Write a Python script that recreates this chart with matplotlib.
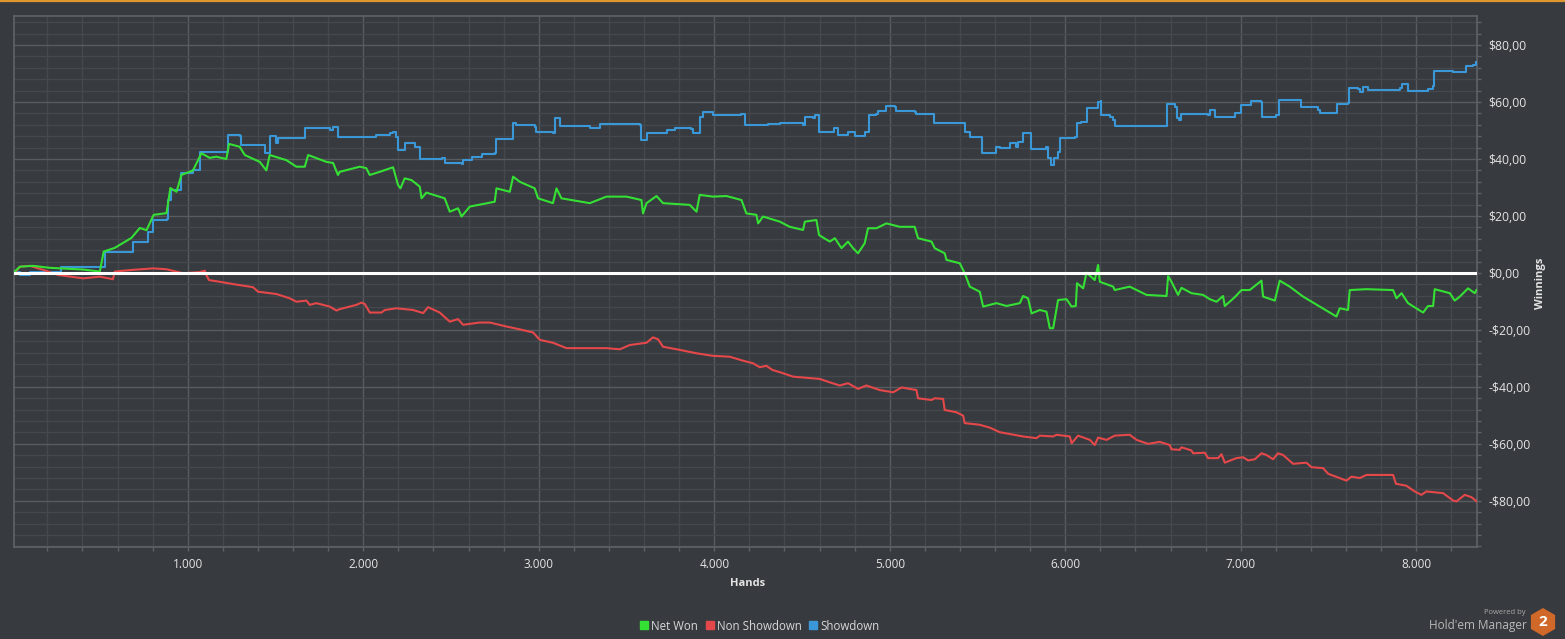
import matplotlib
matplotlib.use("Agg")
import matplotlib.pyplot as plt
from matplotlib.ticker import MultipleLocator, FuncFormatter
from matplotlib.lines import Line2D
from matplotlib.patches import RegularPolygon

# (hands, winnings $)
net_won = [
    (14, 0.5), (43, 2.2), (119, 2.5), (214, 1.8), (309, 1.5), (404, 1.2), (499, 0.5),
    (521, 7.5), (584, 8.8), (679, 12.3), (727, 15.8), (765, 15.0), (806, 20.4), (879, 21.0),
    (901, 29.8), (936, 28.5), (964, 34.4), (1030, 36.0), (1078, 42.0), (1125, 40.4),
    (1163, 40.8), (1220, 40.0), (1235, 45.3), (1296, 44.3), (1325, 41.4), (1410, 39.0),
    (1448, 36.0), (1467, 41.4), (1562, 39.6), (1619, 37.3), (1667, 37.3), (1686, 41.4),
    (1790, 39.0), (1828, 38.6), (1856, 34.4), (1866, 35.5), (1980, 37.3), (2017, 36.8),
    (2037, 34.4), (2094, 35.5), (2170, 37.1), (2198, 30.9), (2212, 29.7), (2236, 33.2),
    (2275, 32.6), (2322, 30.3), (2332, 26.2), (2360, 28.2), (2464, 26.2), (2493, 21.5),
    (2540, 22.7), (2560, 19.8), (2607, 23.3), (2749, 25.0), (2759, 29.7), (2835, 28.5),
    (2854, 33.8), (2892, 32.0), (2977, 29.7), (2996, 26.2), (3081, 24.5), (3101, 29.7),
    (3129, 26.2), (3291, 24.5), (3386, 26.8), (3500, 26.8), (3585, 25.6), (3594, 20.9),
    (3614, 24.5), (3671, 27.0), (3708, 24.5), (3860, 23.9), (3899, 21.5), (3917, 27.4),
    (3993, 26.8), (4070, 27.0), (4155, 25.6), (4183, 20.9), (4240, 20.4), (4250, 17.4),
    (4278, 19.8), (4374, 18.0), (4430, 16.2), (4506, 15.1), (4516, 18.0), (4582, 18.6),
    (4597, 13.3), (4658, 11.0), (4687, 12.2), (4725, 8.7), (4762, 11.0), (4791, 8.7),
    (4819, 6.9), (4857, 10.4), (4876, 15.7), (4924, 15.7), (4981, 17.4), (5057, 16.2),
    (5142, 16.2), (5161, 12.2), (5238, 11.0), (5256, 8.7), (5313, 6.9), (5323, 4.6),
    (5399, 3.4), (5427, -0.1), (5456, -4.8), (5513, -6.6), (5532, -11.8), (5608, -10.6),
    (5665, -11.6), (5741, -10.6), (5760, -8.1), (5788, -8.9), (5808, -14.2), (5855, -13.0),
    (5893, -13.6), (5912, -19.4), (5931, -19.4), (5959, -9.5), (6007, -9.2), (6036, -11.8),
    (6060, -11.6), (6067, -3.6), (6102, -5.4), (6121, 0.1), (6168, -2.5), (6187, 2.8),
    (6197, -3.1), (6273, -4.8), (6282, -6.0), (6367, -4.8), (6463, -7.7), (6577, -8.1),
    (6586, -1.1), (6605, -3.1), (6643, -7.7), (6662, -5.2), (6719, -7.1), (6785, -7.7),
    (6823, -9.2), (6862, -10.1), (6899, -8.1), (6909, -11.6), (6966, -8.5), (7004, -6.0),
    (7051, -6.0), (7118, -2.7), (7127, -8.3), (7194, -9.7), (7222, -2.7), (7279, -4.8),
    (7355, -8.3), (7450, -11.8), (7545, -15.3), (7564, -12.4), (7611, -13.0), (7621, -6.0),
    (7716, -5.7), (7868, -6.0), (7887, -8.9), (7916, -7.1), (7953, -10.6), (8039, -13.9),
    (8067, -11.6), (8096, -11.6), (8105, -5.7), (8191, -7.1), (8219, -9.7), (8248, -8.3),
    (8295, -5.4), (8333, -7.1), (8343, -6.0),
]

non_showdown = [
    (14, -0.1), (43, 2.2), (100, 2.5), (175, 1.1), (261, -0.7), (404, -1.9), (499, -1.3),
    (574, -2.2), (584, 0.5), (688, 1.1), (802, 1.6), (879, 1.3), (973, -0.1), (1068, 0.3),
    (1097, 0.8), (1106, -0.7), (1121, -2.5), (1182, -3.1), (1258, -3.9), (1372, -5.0),
    (1401, -6.6), (1429, -6.8), (1505, -7.4), (1581, -8.9), (1619, -10.1), (1676, -9.7),
    (1695, -11.2), (1733, -10.6), (1771, -11.2), (1809, -11.8), (1847, -13.2), (1866, -12.7),
    (1961, -11.2), (1990, -10.4), (2009, -10.9), (2037, -13.9), (2104, -13.9), (2123, -13.0),
    (2189, -12.4), (2284, -13.0), (2341, -14.1), (2369, -12.0), (2436, -13.9), (2493, -17.1),
    (2540, -16.2), (2569, -18.2), (2664, -17.4), (2721, -17.4), (2816, -18.8), (2892, -19.8),
    (2968, -20.9), (3006, -23.5), (3081, -24.5), (3158, -26.4), (3272, -26.4), (3386, -26.4),
    (3462, -26.8), (3519, -25.3), (3614, -24.5), (3651, -22.6), (3680, -23.3), (3708, -25.9),
    (3803, -27.0), (3899, -28.2), (3993, -29.1), (4088, -29.4), (4164, -30.8), (4221, -31.7),
    (4259, -33.1), (4297, -32.6), (4330, -34.0), (4392, -35.2), (4449, -36.4), (4601, -37.2),
    (4658, -38.4), (4715, -39.5), (4762, -38.7), (4819, -40.7), (4867, -39.5), (4943, -41.1),
    (5019, -41.9), (5067, -40.2), (5152, -41.1), (5161, -44.0), (5238, -44.6), (5256, -44.0),
    (5304, -44.2), (5313, -48.1), (5380, -48.9), (5418, -50.1), (5427, -52.7), (5513, -53.3),
    (5570, -54.3), (5627, -55.9), (5760, -57.4), (5836, -58.0), (5855, -57.1), (5931, -57.4),
    (5950, -56.8), (6026, -57.4), (6036, -59.8), (6073, -57.1), (6140, -58.6), (6168, -60.4),
    (6187, -57.8), (6235, -58.6), (6282, -57.1), (6367, -56.8), (6406, -58.6), (6472, -60.0),
    (6538, -59.3), (6595, -60.4), (6605, -61.9), (6652, -62.1), (6662, -61.2), (6719, -62.3),
    (6728, -63.3), (6795, -63.1), (6814, -65.0), (6871, -65.0), (6890, -63.6), (6909, -66.6),
    (6975, -65.0), (7013, -64.7), (7042, -65.8), (7080, -65.4), (7118, -63.3), (7146, -63.9),
    (7184, -65.4), (7212, -63.3), (7241, -63.9), (7298, -67.0), (7374, -66.6), (7403, -68.2),
    (7469, -68.5), (7498, -70.5), (7602, -72.9), (7631, -71.5), (7678, -72.0), (7716, -70.9),
    (7868, -70.9), (7884, -74.0), (7944, -74.7), (7991, -76.7), (8029, -77.9), (8058, -76.7),
    (8153, -77.3), (8210, -79.9), (8229, -80.2), (8276, -77.9), (8314, -78.7), (8345, -80.2),
]

showdown = [
    (14, 0.3), (43, -0.7), (60, -0.7), (100, 0.5), (280, 2.2), (517, 2.2), (527, 7.5),
    (679, 7.5), (688, 11.0), (774, 14.5), (802, 18.6), (879, 18.8), (888, 25.6), (907, 29.1),
    (964, 35.0), (1030, 36.1), (1068, 42.6), (1163, 42.6), (1230, 48.4), (1296, 48.1),
    (1306, 44.9), (1429, 44.9), (1439, 42.0), (1467, 42.0), (1471, 48.1), (1505, 45.5),
    (1515, 47.3), (1610, 47.3), (1667, 50.8), (1809, 50.2), (1828, 51.3), (1847, 51.3),
    (1856, 47.8), (2075, 48.4), (2151, 49.2), (2170, 49.6), (2189, 47.8), (2198, 43.2),
    (2227, 43.2), (2236, 45.5), (2275, 45.5), (2293, 44.3), (2322, 39.9), (2446, 40.2),
    (2464, 38.5), (2560, 38.2), (2569, 39.6), (2607, 39.6), (2617, 40.8), (2674, 41.8),
    (2749, 42.0), (2759, 46.9), (2844, 46.9), (2854, 52.7), (2873, 51.9), (2977, 51.3),
    (2987, 49.6), (3081, 49.2), (3091, 54.3), (3110, 54.3), (3120, 51.6), (3272, 51.6),
    (3291, 50.8), (3347, 52.2), (3575, 51.9), (3585, 46.7), (3604, 46.7), (3614, 49.0),
    (3728, 50.2), (3775, 50.8), (3870, 50.4), (3880, 49.2), (3908, 49.2), (3917, 54.8),
    (3933, 56.6), (3984, 56.6), (3993, 55.4), (4155, 55.8), (4174, 51.9), (4307, 52.2),
    (4374, 52.5), (4478, 52.5), (4506, 51.9), (4516, 54.8), (4563, 54.3), (4573, 55.4),
    (4592, 55.4), (4597, 49.6), (4668, 49.6), (4681, 50.8), (4705, 48.4), (4753, 48.4),
    (4762, 49.6), (4790, 49.6), (4800, 48.1), (4848, 48.1), (4857, 49.6), (4876, 49.6),
    (4882, 55.4), (4924, 55.8), (4933, 56.9), (4971, 56.9), (4981, 58.6), (5028, 58.4),
    (5034, 56.9), (5142, 56.6), (5148, 55.8), (5247, 55.8), (5251, 52.5), (5418, 52.5),
    (5427, 49.6), (5456, 47.8), (5523, 46.7), (5528, 42.0), (5604, 42.6), (5608, 44.3),
    (5627, 43.7), (5674, 43.7), (5684, 45.5), (5722, 44.3), (5731, 46.1), (5760, 49.0),
    (5798, 49.0), (5802, 43.4), (5883, 43.4), (5893, 44.3), (5902, 40.2), (5921, 37.9),
    (5934, 40.2), (5959, 42.6), (5969, 47.3), (6054, 47.8), (6064, 52.5), (6092, 53.1),
    (6121, 57.8), (6178, 57.8), (6187, 60.1), (6201, 60.5), (6203, 55.4), (6254, 54.8),
    (6273, 53.7), (6282, 51.7), (6577, 51.7), (6582, 59.3), (6624, 58.4), (6634, 54.3),
    (6648, 53.7), (6657, 55.8), (6814, 55.4), (6823, 57.2), (6852, 54.8), (6928, 54.6),
    (6966, 56.2), (7004, 58.9), (7061, 60.5), (7118, 60.1), (7123, 54.8), (7203, 55.4),
    (7218, 60.7), (7336, 60.7), (7346, 58.1), (7440, 57.2), (7450, 56.2), (7545, 56.2),
    (7549, 59.3), (7611, 59.5), (7617, 64.8), (7668, 64.4), (7678, 63.6), (7697, 65.2),
    (7725, 64.2), (7754, 64.2), (7906, 64.8), (7916, 66.3), (7944, 66.3), (7953, 63.9),
    (8067, 64.4), (8096, 65.6), (8102, 71.0), (8210, 70.6), (8267, 70.6), (8286, 72.6),
    (8324, 73.0), (8343, 74.1),
]

series_names = ["Net Won", "Non Showdown", "Showdown"]
series_colors = ["#35e035", "#e5484a", "#3a98d8"]

BG = "#373a3e"
GRID_MAJOR = "#585c60"
GRID_MINOR = "#45494d"
TXT = "#e4e4e4"

plt.rcParams["font.family"] = ["Open Sans", "DejaVu Sans"]

fig = plt.figure(figsize=(15.65, 6.39), dpi=100, facecolor=BG)
ax = fig.add_axes([14 / 1565, 1 - 547 / 639, (1477 - 14) / 1565, (547 - 16) / 639])
ax.set_facecolor(BG)

# orange strip at the top
fig.add_artist(Line2D([0, 1], [1 - 1 / 639, 1 - 1 / 639], transform=fig.transFigure,
                      color="#e0962f", lw=1.6))

# showdown moves in clear stairs, the other two wiggle more
for data, col, z, ds in [(showdown, series_colors[2], 3, "steps-post"),
                         (non_showdown, series_colors[1], 3, "default"),
                         (net_won, series_colors[0], 4, "default")]:
    xs = [p[0] for p in data]
    ys = [p[1] for p in data]
    ax.plot(xs, ys, color=col, lw=1.5, zorder=z, drawstyle=ds)

ax.axhline(0, color="white", lw=2.2, zorder=5)

ax.set_xlim(10, 8346)
ax.set_ylim(-96.2, 90.2)

ax.xaxis.set_major_locator(MultipleLocator(1000))
ax.xaxis.set_minor_locator(MultipleLocator(200))
ax.yaxis.set_major_locator(MultipleLocator(20))
ax.yaxis.set_minor_locator(MultipleLocator(4))


def money(v, pos):
    s = f"${abs(v):,.2f}".replace(".", ",")
    return ("-" + s) if v < 0 else s


def hands(v, pos):
    return f"{int(round(v)):,}".replace(",", ".")


ax.yaxis.set_major_formatter(FuncFormatter(money))
ax.xaxis.set_major_formatter(FuncFormatter(hands))
ax.yaxis.tick_right()

ax.grid(which="major", color=GRID_MAJOR, lw=1.0)
ax.grid(which="minor", color=GRID_MINOR, lw=1.0)
ax.set_axisbelow(True)

for sp in ax.spines.values():
    sp.set_color("#5f6367")
    sp.set_linewidth(1.2)

ax.tick_params(axis="both", which="both", length=3, width=1, color="#5f6367",
               labelcolor=TXT)
ax.tick_params(axis="y", which="both", pad=5, labelsize=8.8)
ax.tick_params(axis="x", which="both", pad=5, labelsize=8.5)

fig.text(748 / 1565, 1 - 583 / 639, "Hands", color=TXT, fontsize=8, fontweight="bold",
         ha="center", va="center")
fig.text(1541 / 1565, 1 - 283 / 639, "Winnings", color=TXT, fontsize=8, fontweight="bold",
         ha="center", va="center", rotation=90)

handles = [Line2D([], [], marker="s", ls="none", color=c, markersize=5.5)
           for c in series_colors]
fig.legend(handles, series_names, loc="center", bbox_to_anchor=(760 / 1565, 1 - 626 / 639),
           ncol=3, frameon=False, fontsize=8.3, labelcolor="#d8d8d8",
           handlelength=0.6, handletextpad=0.3, columnspacing=0.7)

# Hold'em Manager badge
fig.text(1526 / 1565, 1 - 613 / 639, "Powered by", color="#a9a9a9", fontsize=5.5,
         ha="right", va="center")
fig.text(1527 / 1565, 1 - 626 / 639, "Hold'em Manager", color="#b8b8b8", fontsize=8.5,
         ha="right", va="center")
# hexagon sized in inches (dpi 100 -> 1 px = 0.01 in)
fig.add_artist(RegularPolygon((15.43, (639 - 622) / 100), numVertices=6, radius=0.14,
                              orientation=0, facecolor="#d0682a", edgecolor="none",
                              transform=fig.dpi_scale_trans))
fig.text(1543 / 1565, 1 - 622 / 639, "2", color="white", fontsize=11, fontweight="bold",
         ha="center", va="center")

fig.savefig("out.png", dpi=100, facecolor=BG)
